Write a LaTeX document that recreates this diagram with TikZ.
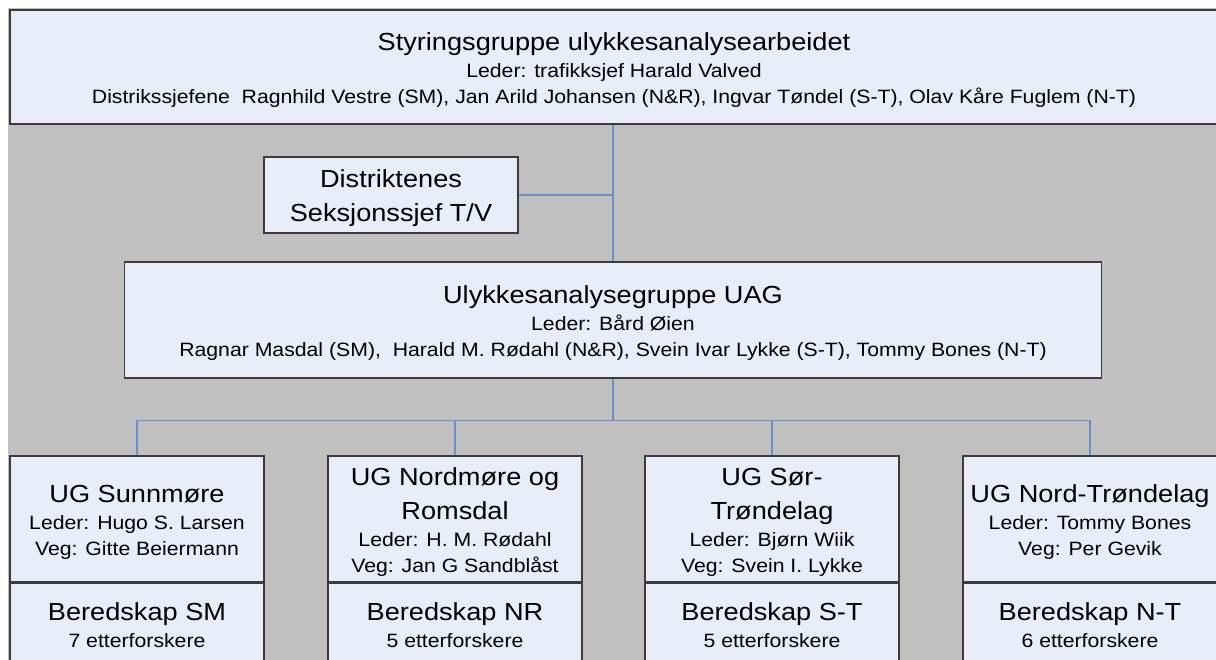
\documentclass[tikz,border=0pt]{standalone}
\usepackage{fontspec}
\setmainfont{Liberation Sans}[FakeStretch=1.1]
\usepackage{tikz}
\usetikzlibrary{positioning}
\definecolor{bgGray}{HTML}{C0C0C0}
\definecolor{boxFill}{HTML}{E9EDF7}
\definecolor{linkBlue}{HTML}{6A8FC9}
\definecolor{boxLine}{HTML}{3C3C3C}
\newcommand{\bigline}{\fontsize{24.7}{26.5}\selectfont}
\newcommand{\smallline}{\fontsize{19.3}{26.5}\selectfont}
\newcommand{\headline}[1]{{\bigline\rule{0pt}{24.5pt}#1}}

\begin{document}
\begin{tikzpicture}[x=1pt,y=-1pt,
    orgbox/.style={draw=boxLine,line width=1.1pt,fill=boxFill,inner sep=0pt,align=center,font=\smallline},
    ugbox/.style={orgbox,minimum width=254pt,minimum height=126pt},
    berbox/.style={orgbox,minimum width=254pt,minimum height=84pt},
    link/.style={draw=linkBlue,line width=1.2pt}]
  \useasboundingbox (0,0) rectangle (1216,660);
  \clip (0,0) rectangle (1216,660);
  \fill[bgGray] (8,8) rectangle (1220,664);
  \node[orgbox,minimum width=1208pt,minimum height=114pt] (styr) at (614,67)
    {\headline{Styringsgruppe ulykkesanalysearbeidet}\\
     Leder: trafikksjef Harald Valved\\
     Distrikssjefene\ \ Ragnhild Vestre (SM), Jan Arild Johansen (N\&R), Ingvar Tøndel (S-T), Olav Kåre Fuglem (N-T)};
  \node[orgbox,minimum width=254pt,minimum height=76pt] (dist) at (391,195)
    {\headline{Distriktenes}\\[7.5pt]{\bigline Seksjonssjef T/V}};
  \node[orgbox,minimum width=977pt,minimum height=116pt] (uag) at (613,320)
    {\headline{Ulykkesanalysegruppe UAG}\\
     Leder: Bård Øien\\
     Ragnar Masdal (SM),\ \ Harald M. Rødahl (N\&R), Svein Ivar Lykke (S-T), Tommy Bones (N-T)};
  \node[ugbox] (ugsm) at (137,519)
    {\headline{UG Sunnmøre}\\Leder: Hugo S. Larsen\\Veg: Gitte Beiermann};
  \node[ugbox] (ugnr) at (455,519)
    {\headline{UG Nordmøre og}\\[7.5pt]{\bigline Romsdal}\\Leder: H. M. Rødahl\\Veg: Jan G Sandblåst};
  \node[ugbox] (ugst) at (772,519)
    {\headline{UG Sør-}\\[7.5pt]{\bigline Trøndelag}\\Leder: Bjørn Wiik\\Veg: Svein I. Lykke};
  \node[ugbox] (ugnt) at (1090,519)
    {\headline{UG Nord-Trøndelag}\\Leder: Tommy Bones\\Veg: Per Gevik};
  \node[berbox,below=0pt of ugsm] (bersm) {{\bigline Beredskap SM}\\7 etterforskere};
  \node[berbox,below=0pt of ugnr] (bernr) {{\bigline Beredskap NR}\\5 etterforskere};
  \node[berbox,below=0pt of ugst] (berst) {{\bigline Beredskap S-T}\\5 etterforskere};
  \node[berbox,below=0pt of ugnt] (bernt) {{\bigline Beredskap N-T}\\6 etterforskere};
  \coordinate[below=42pt of uag.south] (bus);
  \draw[link] (styr.south -| uag.north) -- (uag.north);
  \draw[link] (dist.east) -- (dist.east -| uag.north);
  \draw[link] (uag.south) -- (bus);
  \foreach \g in {ugsm,ugnr,ugst,ugnt}
    \draw[link] (bus) -| (\g.north);
\end{tikzpicture}
\end{document}
